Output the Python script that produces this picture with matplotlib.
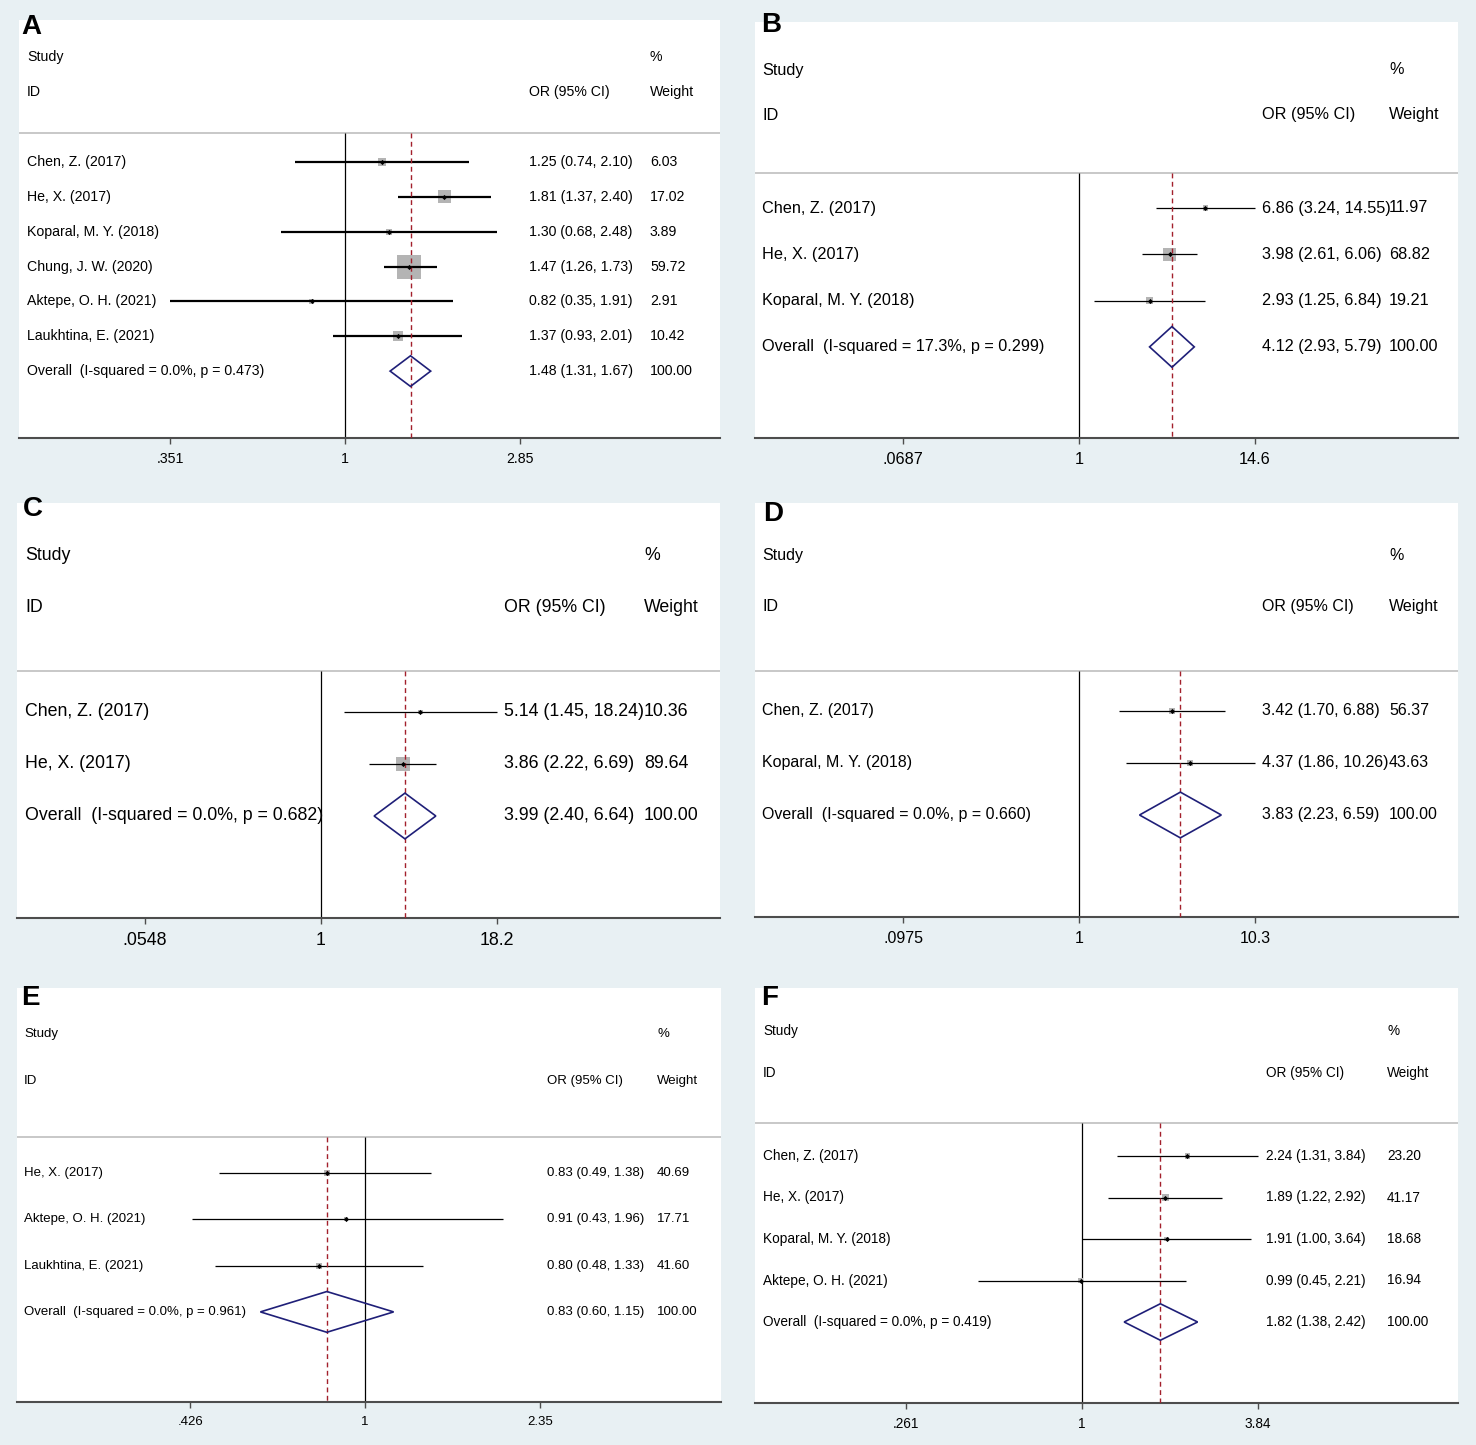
import numpy as np
import matplotlib
matplotlib.use("Agg")
import matplotlib.pyplot as plt
from matplotlib.patches import Polygon
from matplotlib.ticker import NullLocator
from matplotlib.transforms import blended_transform_factory

plt.rcParams["font.family"] = ["Liberation Sans", "DejaVu Sans"]

W, H = 1476, 1445
BG = "#e8f0f3"

# ---- data -------------------------------------------------------------
a_studies = ["Chen, Z. (2017)", "He, X. (2017)", "Koparal, M. Y. (2018)",
             "Chung, J. W. (2020)", "Aktepe, O. H. (2021)", "Laukhtina, E. (2021)"]
a_or = [1.25, 1.81, 1.30, 1.47, 0.82, 1.37]
a_lo = [0.74, 1.37, 0.68, 1.26, 0.35, 0.93]
a_hi = [2.10, 2.40, 2.48, 1.73, 1.91, 2.01]
a_wt = [6.03, 17.02, 3.89, 59.72, 2.91, 10.42]
a_overall = [1.48, 1.31, 1.67]
a_het = ["0.0%", "0.473"]
a_ticks = [".351", "1", "2.85"]

b_studies = ["Chen, Z. (2017)", "He, X. (2017)", "Koparal, M. Y. (2018)"]
b_or = [6.86, 3.98, 2.93]
b_lo = [3.24, 2.61, 1.25]
b_hi = [14.55, 6.06, 6.84]
b_wt = [11.97, 68.82, 19.21]
b_overall = [4.12, 2.93, 5.79]
b_het = ["17.3%", "0.299"]
b_ticks = [".0687", "1", "14.6"]

c_studies = ["Chen, Z. (2017)", "He, X. (2017)"]
c_or = [5.14, 3.86]
c_lo = [1.45, 2.22]
c_hi = [18.24, 6.69]
c_wt = [10.36, 89.64]
c_overall = [3.99, 2.40, 6.64]
c_het = ["0.0%", "0.682"]
c_ticks = [".0548", "1", "18.2"]

d_studies = ["Chen, Z. (2017)", "Koparal, M. Y. (2018)"]
d_or = [3.42, 4.37]
d_lo = [1.70, 1.86]
d_hi = [6.88, 10.26]
d_wt = [56.37, 43.63]
d_overall = [3.83, 2.23, 6.59]
d_het = ["0.0%", "0.660"]
d_ticks = [".0975", "1", "10.3"]

e_studies = ["He, X. (2017)", "Aktepe, O. H. (2021)", "Laukhtina, E. (2021)"]
e_or = [0.83, 0.91, 0.80]
e_lo = [0.49, 0.43, 0.48]
e_hi = [1.38, 1.96, 1.33]
e_wt = [40.69, 17.71, 41.60]
e_overall = [0.83, 0.60, 1.15]
e_het = ["0.0%", "0.961"]
e_ticks = [".426", "1", "2.35"]

f_studies = ["Chen, Z. (2017)", "He, X. (2017)", "Koparal, M. Y. (2018)",
             "Aktepe, O. H. (2021)"]
f_or = [2.24, 1.89, 1.91, 0.99]
f_lo = [1.31, 1.22, 1.00, 0.45]
f_hi = [3.84, 2.92, 3.64, 2.21]
f_wt = [23.20, 41.17, 18.68, 16.94]
f_overall = [1.82, 1.38, 2.42]
f_het = ["0.0%", "0.419"]
f_ticks = [".261", "1", "3.84"]

# ---- layout per panel (pixels) -----------------------------------------
panels = [
    dict(tag="A", studies=a_studies, est=a_or, lo=a_lo, hi=a_hi, wt=a_wt,
         overall=a_overall, het=a_het, ticks=a_ticks,
         left=19, right=720, top=20, axis=438, header=133, first=162, step=34.85,
         study_y=57, id_y=92, one_px=345, hi_px=520, lab_x=27, or_x=529, wt_x=650,
         fs=10.2, box=3.1, ci_lw=1.6, tag_xy=(21, 14)),
    dict(tag="B", studies=b_studies, est=b_or, lo=b_lo, hi=b_hi, wt=b_wt,
         overall=b_overall, het=b_het, ticks=b_ticks,
         left=755, right=1458, top=22, axis=438, header=173, first=208, step=46.3,
         study_y=70, id_y=115, one_px=1079, hi_px=1255, lab_x=762, or_x=1262, wt_x=1389,
         fs=11.7, box=1.57, ci_lw=0.9, tag_xy=(761, 12)),
    dict(tag="C", studies=c_studies, est=c_or, lo=c_lo, hi=c_hi, wt=c_wt,
         overall=c_overall, het=c_het, ticks=c_ticks,
         left=17, right=720, top=503, axis=918, header=671, first=712, step=52,
         study_y=556, id_y=608, one_px=321, hi_px=497, lab_x=25, or_x=504, wt_x=644,
         fs=12.8, box=1.48, ci_lw=0.9, tag_xy=(23, 496)),
    dict(tag="D", studies=d_studies, est=d_or, lo=d_lo, hi=d_hi, wt=d_wt,
         overall=d_overall, het=d_het, ticks=d_ticks,
         left=755, right=1458, top=503, axis=917, header=671, first=711, step=52,
         study_y=556, id_y=607, one_px=1079, hi_px=1255, lab_x=762, or_x=1262, wt_x=1389,
         fs=11.5, box=0.85, ci_lw=0.9, tag_xy=(763, 501)),
    dict(tag="E", studies=e_studies, est=e_or, lo=e_lo, hi=e_hi, wt=e_wt,
         overall=e_overall, het=e_het, ticks=e_ticks,
         left=17, right=721, top=988, axis=1402, header=1137, first=1173, step=46.3,
         study_y=1034, id_y=1081, one_px=365, hi_px=540, lab_x=24, or_x=547, wt_x=657,
         fs=9.5, box=0.95, ci_lw=0.9, tag_xy=(21, 985)),
    dict(tag="F", studies=f_studies, est=f_or, lo=f_lo, hi=f_hi, wt=f_wt,
         overall=f_overall, het=f_het, ticks=f_ticks,
         left=755, right=1458, top=988, axis=1403, header=1123, first=1156, step=41.5,
         study_y=1031, id_y=1073, one_px=1082, hi_px=1258, lab_x=763, or_x=1266, wt_x=1387,
         fs=9.8, box=1.1, ci_lw=0.9, tag_xy=(761, 985)),
]


def draw_panel(fig, p):
    ax = fig.add_axes([p["left"] / W, 1 - p["axis"] / H,
                       (p["right"] - p["left"]) / W, (p["axis"] - p["top"]) / H])
    ax.set_facecolor("white")
    ax.set_xscale("log")

    # x limits from the pixel position of the "1" and the upper tick
    hi_tick = float(p["ticks"][2])
    k = (p["hi_px"] - p["one_px"]) / np.log(hi_tick)
    ax.set_xlim(np.exp((p["left"] - p["one_px"]) / k),
                np.exp((p["right"] - p["one_px"]) / k))

    # y in row units, rows downward
    def row(px):
        return (px - p["first"]) / p["step"]
    y_bottom, y_top = row(p["axis"]), row(p["top"])
    ax.set_ylim(y_bottom, y_top)
    hdr = row(p["header"])

    n = len(p["studies"])
    ys = np.arange(n)
    fs = p["fs"]
    trans = blended_transform_factory(ax.transAxes, ax.transData)

    def fx(px):
        return (px - p["left"]) / (p["right"] - p["left"])

    ax.axhline(hdr, color="#c4c4c4", lw=1.3, zorder=1)
    ax.vlines(1, hdr, y_bottom, color="black", lw=0.9, zorder=2)
    ax.vlines(p["overall"][0], hdr, y_bottom, color="#a3202c", lw=1.0,
              linestyles=(0, (3.5, 2.5)), zorder=5)

    # weight boxes, CI lines, point estimates
    side_pt = p["box"] * np.sqrt(p["wt"]) * 72 / 100
    ax.scatter(p["est"], ys, s=side_pt ** 2, marker="s", color="#b4b4b4",
               linewidths=0, zorder=3)
    ax.hlines(ys, p["lo"], p["hi"], color="black", lw=p["ci_lw"], zorder=4)
    ax.scatter(p["est"], ys, s=7, marker="D", color="black", linewidths=0, zorder=6)

    # overall diamond
    oe, ol, oh = p["overall"]
    hd = 0.44
    ax.add_patch(Polygon([(ol, n), (oe, n - hd), (oh, n), (oe, n + hd)],
                         closed=True, fill=False, edgecolor="#1f1f78", lw=1.2,
                         zorder=6))

    # text columns
    ax.text(fx(p["lab_x"]), row(p["study_y"]), "Study", transform=trans,
            fontsize=fs, va="center", ha="left")
    ax.text(fx(p["lab_x"]), row(p["id_y"]), "ID", transform=trans,
            fontsize=fs, va="center", ha="left")
    ax.text(fx(p["or_x"]), row(p["id_y"]), "OR (95% CI)", transform=trans,
            fontsize=fs, va="center", ha="left")
    ax.text(fx(p["wt_x"]), row(p["study_y"]), "%", transform=trans,
            fontsize=fs, va="center", ha="left")
    ax.text(fx(p["wt_x"]), row(p["id_y"]), "Weight", transform=trans,
            fontsize=fs, va="center", ha="left")

    labels = list(p["studies"]) + [
        "Overall  (I-squared = %s, p = %s)" % (p["het"][0], p["het"][1])]
    ors = ["%.2f (%.2f, %.2f)" % (e, l, h)
           for e, l, h in zip(p["est"], p["lo"], p["hi"])]
    ors.append("%.2f (%.2f, %.2f)" % (oe, ol, oh))
    wts = ["%.2f" % w for w in p["wt"]] + ["100.00"]
    for i in range(n + 1):
        ax.text(fx(p["lab_x"]), i, labels[i], transform=trans, fontsize=fs,
                va="center", ha="left", zorder=7)
        ax.text(fx(p["or_x"]), i, ors[i], transform=trans, fontsize=fs,
                va="center", ha="left", zorder=7)
        ax.text(fx(p["wt_x"]), i, wts[i], transform=trans, fontsize=fs,
                va="center", ha="left", zorder=7)

    # bottom axis only
    for s in ["top", "left", "right"]:
        ax.spines[s].set_visible(False)
    ax.spines["bottom"].set_color("#4d4d4d")
    ax.spines["bottom"].set_linewidth(1.5)
    ax.set_yticks([])
    ax.set_xticks([float(t) for t in p["ticks"]])
    ax.set_xticklabels(p["ticks"])
    ax.xaxis.set_minor_locator(NullLocator())
    ax.tick_params(axis="x", length=4, width=1.0, color="#4d4d4d",
                   labelsize=fs, pad=6)

    # panel letter
    tx, ty = p["tag_xy"]
    fig.text(tx / W, 1 - ty / H, p["tag"], fontsize=20, fontweight="bold",
             va="top", ha="left")


fig = plt.figure(figsize=(W / 100, H / 100), dpi=100, facecolor=BG)
for p in panels:
    draw_panel(fig, p)

fig.savefig("out.png", dpi=100, facecolor=BG)
